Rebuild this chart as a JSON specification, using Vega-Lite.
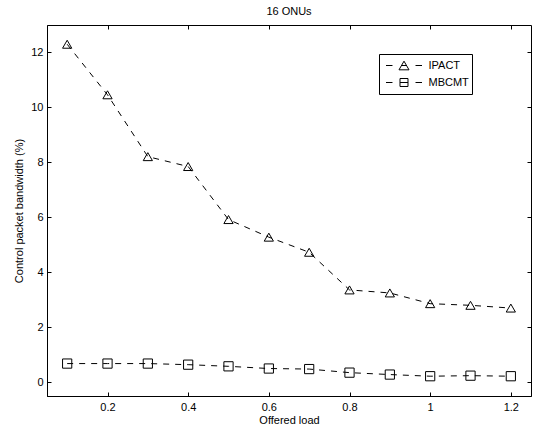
{
  "$schema": "https://vega.github.io/schema/vega-lite/v6.json",
  "autosize": {"type": "none"},
  "padding": {"left": 47, "top": 25, "right": 4, "bottom": 34},
  "width": 484,
  "height": 371,
  "background": "white",
  "title": {"text": "16 ONUs", "fontSize": 11, "font": "Liberation Sans", "fontWeight": "normal", "color": "black", "offset": 8},
  "config": {
    "view": {"stroke": "black", "strokeWidth": 1},
    "axis": {"grid": false, "domainColor": "black", "tickColor": "black", "labelColor": "black", "titleColor": "black", "labelFont": "Liberation Sans", "titleFont": "Liberation Sans", "labelFontSize": 11, "titleFontSize": 11, "titleFontWeight": "normal", "tickSize": -4}
  },
  "data": {"values": [
    {"load": 0.1, "series": "IPACT", "value": 12.3},
    {"load": 0.2, "series": "IPACT", "value": 10.46},
    {"load": 0.3, "series": "IPACT", "value": 8.21},
    {"load": 0.4, "series": "IPACT", "value": 7.85},
    {"load": 0.5, "series": "IPACT", "value": 5.92},
    {"load": 0.6, "series": "IPACT", "value": 5.28},
    {"load": 0.7, "series": "IPACT", "value": 4.73},
    {"load": 0.8, "series": "IPACT", "value": 3.36},
    {"load": 0.9, "series": "IPACT", "value": 3.25},
    {"load": 1.0, "series": "IPACT", "value": 2.86},
    {"load": 1.1, "series": "IPACT", "value": 2.8},
    {"load": 1.2, "series": "IPACT", "value": 2.7},
    {"load": 0.1, "series": "MBCMT", "value": 0.68},
    {"load": 0.2, "series": "MBCMT", "value": 0.68},
    {"load": 0.3, "series": "MBCMT", "value": 0.68},
    {"load": 0.4, "series": "MBCMT", "value": 0.64},
    {"load": 0.5, "series": "MBCMT", "value": 0.58},
    {"load": 0.6, "series": "MBCMT", "value": 0.5},
    {"load": 0.7, "series": "MBCMT", "value": 0.48},
    {"load": 0.8, "series": "MBCMT", "value": 0.35},
    {"load": 0.9, "series": "MBCMT", "value": 0.28},
    {"load": 1.0, "series": "MBCMT", "value": 0.22},
    {"load": 1.1, "series": "MBCMT", "value": 0.24},
    {"load": 1.2, "series": "MBCMT", "value": 0.22}
  ]},
  "layer": [
    {
      "mark": {"type": "line", "color": "black", "strokeWidth": 1, "strokeDash": [6, 6]},
      "encoding": {
        "x": {"field": "load", "type": "quantitative", "scale": {"domain": [0.05, 1.25], "nice": false, "zero": false},
              "axis": {"orient": "top", "labels": false, "domain": false, "title": null, "values": [0.2, 0.4, 0.6, 0.8, 1, 1.2]}},
        "y": {"field": "value", "type": "quantitative", "scale": {"domain": [-0.5, 13], "nice": false, "zero": false},
              "axis": {"orient": "right", "labels": false, "domain": false, "title": null, "values": [0, 2, 4, 6, 8, 10, 12]}},
        "detail": {"field": "series"}
      }
    },
    {
      "mark": {"type": "point", "filled": false, "color": "black", "strokeWidth": 1, "opacity": 1, "size": 85},
      "encoding": {
        "x": {"field": "load", "type": "quantitative",
              "axis": {"orient": "bottom", "title": "Offered load", "values": [0.2, 0.4, 0.6, 0.8, 1, 1.2], "format": "~g", "labelPadding": 9, "titlePadding": 2}},
        "y": {"field": "value", "type": "quantitative",
              "axis": {"orient": "left", "title": "Control packet bandwidth (%)", "values": [0, 2, 4, 6, 8, 10, 12], "labelPadding": 8, "titlePadding": 6}},
        "shape": {"field": "series", "type": "nominal",
                  "scale": {"domain": ["IPACT", "MBCMT"], "range": ["triangle-up", "square"]},
                  "legend": null}
      }
    },
    {
      "mark": {"type": "point", "filled": false, "color": "black", "strokeWidth": 1, "opacity": 1, "size": 0},
      "encoding": {
        "x": {"field": "load", "type": "quantitative", "axis": null},
        "y": {"field": "value", "type": "quantitative", "axis": null},
        "shape": {"field": "series", "type": "nominal",
                  "scale": {"domain": ["IPACT", "MBCMT"], "range": [
                    "M-1,0H-0.64M0,-0.24L-0.278,0.24L0.278,0.24ZM-0.139,0H0.139M0.64,0H1",
                    "M-1,0H-0.64M-0.222,-0.222H0.222V0.222H-0.222ZM-0.222,0H0.222M0.64,0H1"]},
                  "legend": {"orient": "none", "legendX": 332, "legendY": 29, "title": null, "strokeColor": "black", "fillColor": "white", "padding": 3,
                             "symbolSize": 1296, "symbolStrokeWidth": 1, "symbolOpacity": 1, "symbolStrokeColor": "black", "symbolFillColor": "transparent",
                             "symbolOffset": 3.5, "labelOffset": 6, "clipHeight": 17, "rowPadding": 0,
                             "labelFont": "Liberation Sans", "labelFontSize": 11, "labelColor": "black"}}
      }
    }
  ],
  "resolve": {"axis": {"x": "independent", "y": "independent"}, "scale": {"shape": "independent"}, "legend": {"shape": "independent"}}
}
